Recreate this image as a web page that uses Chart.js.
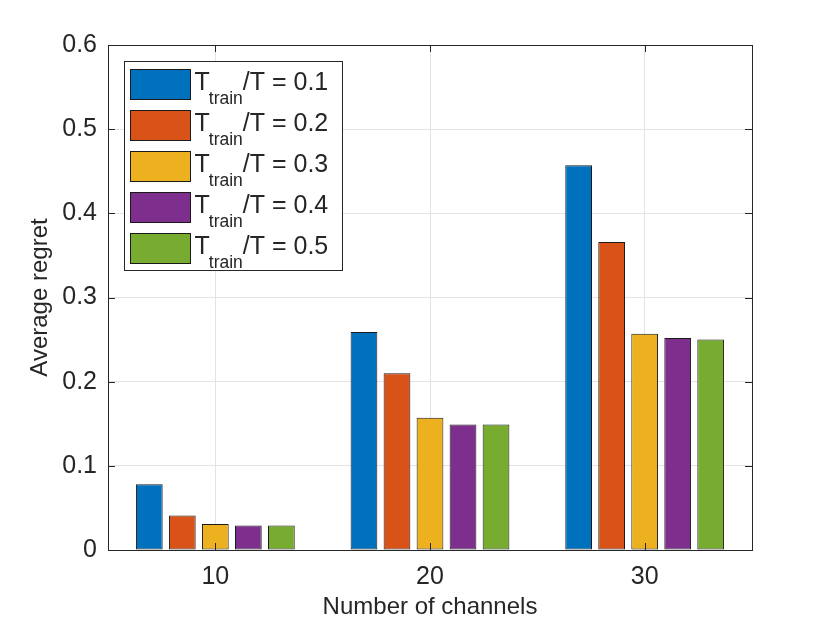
<!DOCTYPE html>
<html>
<head>
<meta charset="utf-8">
<script src="https://cdn.jsdelivr.net/npm/chart.js@4.4.1/dist/chart.umd.min.js"></script>
<style>
    html, body { margin: 0; padding: 0; background: #fff; }
    #wrap { width: 830px; height: 623px; position: relative; }
</style>
</head>
<body>
<div id="wrap"><canvas id="regretChart"></canvas></div>
<script>
// 類別與刻度
const channels = ['10', '20', '30'];
const yTickLabels = ['0', '0.1', '0.2', '0.3', '0.4', '0.5', '0.6'];
const trainRatios = ['0.1', '0.2', '0.3', '0.4', '0.5'];

// 各比例的平均 regret
const regret01 = [0.078, 0.259, 0.457];
const regret02 = [0.041, 0.210, 0.366];
const regret03 = [0.031, 0.157, 0.257];
const regret04 = [0.029, 0.149, 0.252];
const regret05 = [0.029, 0.149, 0.250];

const seriesValues = [regret01, regret02, regret03, regret04, regret05];
const seriesColors = ['#0072BD', '#D95319', '#EDB120', '#7E2F8E', '#77AC30'];

const textColor = '#262626';
const fontFamily = '"Liberation Sans", Arial, Helvetica, sans-serif';
Chart.defaults.font.family = fontFamily;
Chart.defaults.color = textColor;

// 坐標框與內向刻度
const matlabAxes = {
    id: 'matlabAxes',
    afterDatasetsDraw(chart) {
        const { ctx, chartArea: a, scales: { x, y } } = chart;
        ctx.save();
        ctx.strokeStyle = textColor;
        ctx.lineWidth = 1;
        ctx.beginPath();
        y.ticks.forEach((t, i) => {
            const py = Math.round(y.getPixelForTick(i)) + 0.5;
            ctx.moveTo(a.left, py); ctx.lineTo(a.left + 7, py);
            ctx.moveTo(a.right, py); ctx.lineTo(a.right - 7, py);
        });
        x.ticks.forEach((t, i) => {
            const px = Math.round(x.getPixelForTick(i)) + 0.5;
            ctx.moveTo(px, a.bottom); ctx.lineTo(px, a.bottom - 7);
            ctx.moveTo(px, a.top); ctx.lineTo(px, a.top + 7);
        });
        ctx.stroke();
        ctx.strokeRect(Math.round(a.left) + 0.5, Math.round(a.top) + 0.5,
            Math.round(a.right - a.left), Math.round(a.bottom - a.top));
        ctx.restore();
    }
};

// 圖例（含下標）
const matlabLegend = {
    id: 'matlabLegend',
    afterDraw(chart) {
        const { ctx, chartArea } = chart;
        const x0 = Math.round(chartArea.left) + 16.5;
        const y0 = Math.round(chartArea.top) + 16.5;
        const w = 218, h = 209;
        ctx.save();
        ctx.fillStyle = '#fff';
        ctx.fillRect(x0, y0, w, h);
        ctx.strokeStyle = textColor;
        ctx.lineWidth = 1;
        ctx.strokeRect(x0, y0, w, h);

        chart.data.datasets.forEach((ds, i) => {
            const sy = y0 + 8 + i * 41;
            ctx.fillStyle = ds.backgroundColor;
            ctx.fillRect(x0 + 6, sy, 60, 30);
            ctx.strokeStyle = '#1a1a1a';
            ctx.strokeRect(x0 + 6, sy, 60, 30);

            const m = ds.label.match(/^(.*?)_\{(.*?)\}(.*)$/);
            const base = sy + 20;
            let tx = x0 + 70;
            ctx.fillStyle = textColor;
            ctx.textBaseline = 'alphabetic';
            ctx.textAlign = 'left';
            ctx.font = '25px ' + fontFamily;
            ctx.fillText(m[1], tx, base);
            tx += ctx.measureText(m[1]).width - 1;
            ctx.font = '17.5px ' + fontFamily;
            ctx.fillText(m[2], tx, base + 14.5);
            tx += ctx.measureText(m[2]).width;
            ctx.font = '25px ' + fontFamily;
            ctx.fillText(m[3], tx, base);
        });
        ctx.restore();
    }
};

const datasets = seriesValues.map((vals, i) => ({
    label: `T_{train}/T = ${trainRatios[i]}`,
    data: vals,
    backgroundColor: seriesColors[i],
    borderColor: '#1a1a1a',
    borderWidth: 1,
    borderSkipped: false,
    categoryPercentage: 0.769,
    barPercentage: 0.81
}));

new Chart(document.getElementById('regretChart'), {
    type: 'bar',
    data: { labels: channels, datasets },
    options: {
        responsive: true,
        maintainAspectRatio: false,
        devicePixelRatio: 1,
        animation: false,
        layout: { padding: { top: 45, right: 78, left: 0, bottom: 0 } },
        plugins: {
            legend: { display: false },
            tooltip: { enabled: false }
        },
        scales: {
            x: {
                offset: true,
                grid: { offset: false, color: '#e3e3e3', drawTicks: false },
                border: { display: false },
                ticks: { font: { size: 25 }, color: textColor, padding: 12 },
                title: {
                    display: true,
                    text: 'Number of channels',
                    font: { size: 24 },
                    color: textColor,
                    padding: { top: 0, bottom: 1 }
                },
                afterFit(s) { s.height = 73; }
            },
            y: {
                min: 0,
                max: 0.6,
                grid: { color: '#e3e3e3', drawTicks: false },
                border: { display: false },
                ticks: {
                    stepSize: 0.1,
                    font: { size: 25 },
                    color: textColor,
                    padding: 11,
                    callback: (v, i) => yTickLabels[i]
                },
                title: {
                    display: true,
                    text: 'Average regret',
                    font: { size: 24 },
                    color: textColor,
                    padding: { top: 25.5, bottom: 0 }
                },
                afterFit(s) { s.width = 108; }
            }
        }
    },
    plugins: [matlabAxes, matlabLegend]
});
</script>
</body>
</html>
